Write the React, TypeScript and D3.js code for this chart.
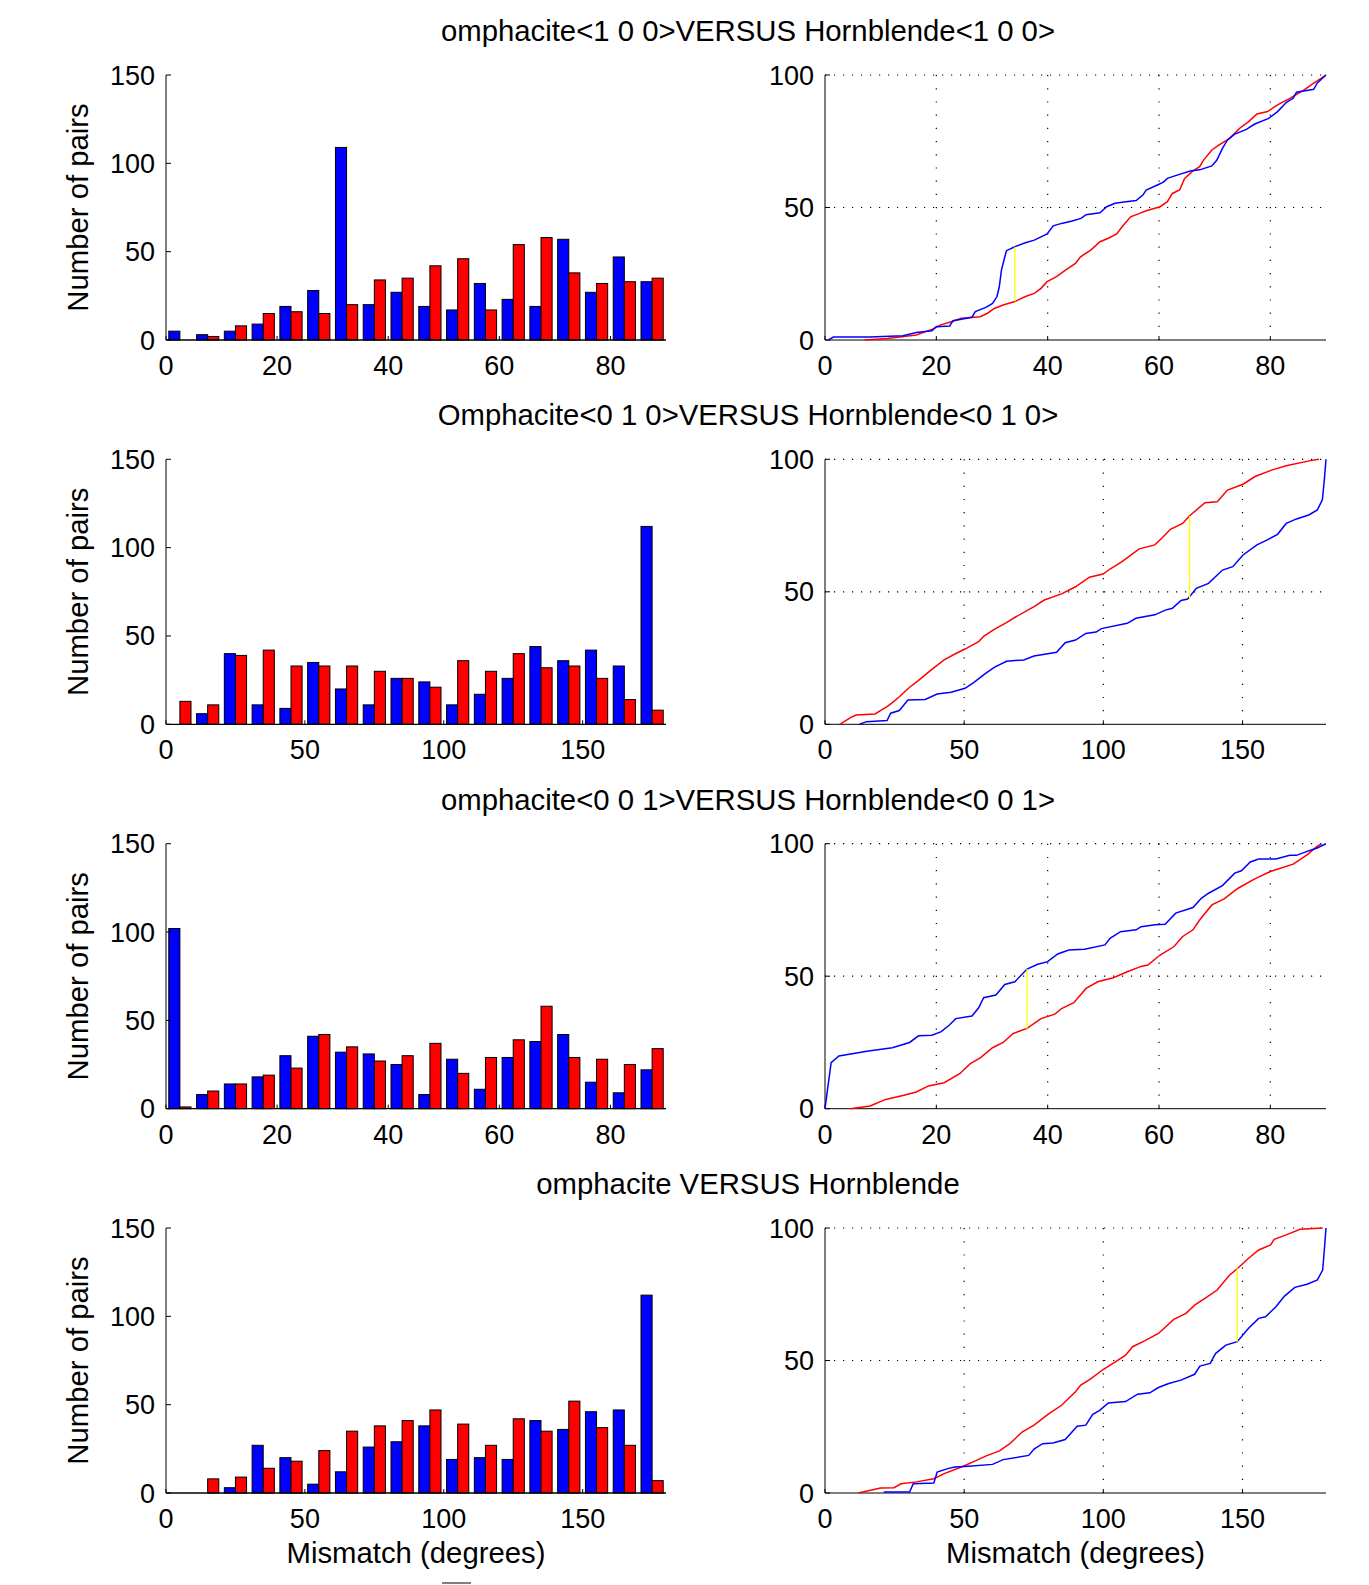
import React from "react";
import * as d3 from "d3";

// ---------- DATA ----------
const titles = [
  "omphacite<1 0 0>VERSUS Hornblende<1 0 0>",
  "Omphacite<0 1 0>VERSUS Hornblende<0 1 0>",
  "omphacite<0 0 1>VERSUS Hornblende<0 0 1>",
  "omphacite VERSUS Hornblende",
];

const centers90 = [2.5, 7.5, 12.5, 17.5, 22.5, 27.5, 32.5, 37.5, 42.5, 47.5, 52.5, 57.5, 62.5, 67.5, 72.5, 77.5, 82.5, 87.5];
const centers180 = [5, 15, 25, 35, 45, 55, 65, 75, 85, 95, 105, 115, 125, 135, 145, 155, 165, 175];

const ticks90 = [0, 20, 40, 60, 80];
const ticks180 = [0, 50, 100, 150];
const histYTicks = [0, 50, 100, 150];
const cdfYTicks = [0, 50, 100];

const hist1Blue = [5, 3, 5, 9, 19, 28, 109, 20, 27, 19, 17, 32, 23, 19, 57, 27, 47, 33];
const hist1Red = [0, 2, 8, 15, 16, 15, 20, 34, 35, 42, 46, 17, 54, 58, 38, 32, 33, 35];
const hist2Blue = [0, 6, 40, 11, 9, 35, 20, 11, 26, 24, 11, 17, 26, 44, 36, 42, 33, 112];
const hist2Red = [13, 11, 39, 42, 33, 33, 33, 30, 26, 21, 36, 30, 40, 32, 33, 26, 14, 8];
const hist3Blue = [102, 8, 14, 18, 30, 41, 32, 31, 25, 8, 28, 11, 29, 38, 42, 15, 9, 22];
const hist3Red = [1, 10, 14, 19, 23, 42, 35, 27, 30, 37, 20, 29, 39, 58, 29, 28, 25, 34];
const hist4Blue = [0, 0, 3, 27, 20, 5, 12, 26, 29, 38, 19, 20, 19, 41, 36, 46, 47, 112];
const hist4Red = [0, 8, 9, 14, 18, 24, 35, 38, 41, 47, 39, 27, 42, 35, 52, 37, 27, 7];

const cdf1Blue: [number, number][] = [[0.6, 0], [1.5, 1.1], [8, 1.1], [14, 1.6], [16.4, 2.8], [19.2, 3.5], [20, 5], [22.4, 5.3], [23, 7.3], [26.4, 8.6], [27, 10.7], [28.9, 12.3], [30.1, 13.8], [30.9, 16.4], [31.3, 20], [31.7, 26.4], [32.3, 31.4], [32.6, 33.7], [34.1, 35.2], [36, 36.7], [37.6, 37.7], [39.9, 40], [41, 43.1], [42.5, 44], [44.4, 44.9], [46, 45.9], [46.9, 47.3], [49.4, 48], [50.6, 50.3], [52.1, 51.6], [53.7, 52.1], [55.9, 52.6], [57.1, 54.7], [57.7, 56.6], [59.9, 58.7], [60.8, 59.6], [61.5, 61], [63.4, 62.3], [65.6, 63.8], [67.3, 64.2], [69.5, 65.7], [70.4, 67.9], [71.4, 72.3], [72.3, 75.5], [73.6, 77.7], [75.7, 79.5], [77.2, 81.5], [79.7, 83.6], [81.3, 86.2], [82.9, 89.7], [84.1, 91.2], [84.7, 93.5], [87.8, 94.6], [88.4, 96.9], [90, 100]];
const cdf1Red: [number, number][] = [[7.1, 0], [11.2, 0.6], [16.4, 1.9], [19.2, 4], [20.8, 5.7], [22.7, 6.9], [24.5, 8.2], [27.9, 8.8], [29.2, 10.1], [30.4, 11.9], [32, 13.2], [34.1, 14.5], [36, 16.4], [37.6, 17.6], [38.8, 19.5], [39.9, 22], [41.6, 23.9], [43.2, 26.4], [45, 28.9], [45.9, 31.4], [47.8, 34], [49.4, 37.1], [50.9, 38.4], [52.4, 40], [53.4, 42.8], [54.9, 46.5], [56.5, 47.8], [57.7, 48.8], [60.2, 50.3], [61.5, 52.2], [62.4, 55.3], [63.7, 56.6], [64.6, 61], [66.1, 63.8], [67.3, 65.4], [68, 67.9], [69.5, 71.7], [70.8, 73.6], [72.7, 76.1], [74.5, 79.9], [76.1, 82.4], [77.6, 85.3], [79.5, 86.2], [81.3, 88.7], [83.5, 91.2], [86, 94.3], [87.8, 96.9], [90, 100]];
const cdf2Blue: [number, number][] = [[12.4, 0], [14.9, 1], [22.3, 1.4], [23.6, 4.2], [26.7, 5.2], [29.8, 9.2], [36, 9.4], [40.3, 11.4], [45.3, 12.1], [50.3, 13.6], [53.4, 15.7], [57.7, 19.2], [60.8, 21.5], [65.2, 23.8], [71.4, 24.3], [75.1, 25.8], [83.2, 27.2], [86.3, 30.8], [90, 31.8], [93.7, 34.3], [97.4, 34.8], [99.3, 36.1], [108.6, 38.1], [111.7, 40], [118.5, 41.3], [122.3, 43.1], [124.8, 43.8], [127.9, 46.7], [130.3, 47.3], [133.4, 51.3], [137.8, 53.2], [142.8, 58.2], [146.5, 59.5], [150.2, 63.9], [155.2, 67.7], [158.9, 69.6], [162.6, 71.7], [165.7, 75.8], [169.4, 77.5], [173.8, 79], [176.9, 80.9], [178.7, 84.7], [179.4, 92.2], [180, 100]];
const cdf2Red: [number, number][] = [[5.3, 0], [9.3, 2.6], [11.2, 3.5], [18, 3.9], [19.9, 5.2], [22.3, 6.7], [24.2, 8.2], [26.7, 10.4], [30.4, 14], [33.5, 16.5], [38.5, 20.8], [42.8, 24.3], [47.2, 26.8], [50.3, 28.4], [55.2, 31.2], [57.1, 33.3], [60.8, 35.8], [65.2, 38.4], [68.3, 40.4], [75.1, 44.4], [78.8, 46.9], [85, 49.2], [90, 51.9], [95, 55.5], [99.9, 56.7], [102.4, 58.6], [106.7, 61.4], [112.9, 66.2], [118.5, 67.7], [121, 70.2], [124.1, 73.6], [128.5, 75.8], [130.9, 78.6], [136.5, 83.6], [140.9, 84], [144.6, 88.4], [150.2, 90.6], [154.5, 93.5], [160.7, 96], [165.7, 97.6], [174.4, 99.5], [177.5, 100]];
const cdf3Blue: [number, number][] = [[0, 0], [1.1, 17.4], [2.5, 19.9], [7.8, 21.8], [12.1, 23], [15.2, 25], [16.8, 27.5], [19.2, 27.7], [20.8, 29], [22.3, 31.5], [23.5, 34], [26.4, 35], [27.6, 38.1], [28.5, 41.9], [30.7, 42.9], [32.3, 46.9], [34.1, 47.9], [36.3, 52.7], [38.2, 54.5], [40, 55.5], [41.8, 58.4], [43.8, 59.9], [46.6, 60.2], [50.3, 61.8], [51.2, 64.3], [53.1, 66.8], [55.9, 67.5], [56.8, 68.7], [59.3, 69.4], [61.1, 69.6], [63, 73.8], [66.1, 75.9], [67.6, 79.4], [68.9, 81.3], [71.4, 84.2], [73.6, 88.9], [74.8, 89.8], [76.4, 93.1], [77.9, 94.2], [81, 94.2], [83.5, 95.6], [84.7, 95.6], [86.6, 97.1], [88.4, 98.4], [90, 100]];
const cdf3Red: [number, number][] = [[4.5, 0], [8.1, 1], [10.9, 3.5], [14, 5], [16.4, 6.3], [18.6, 8.6], [21.4, 9.8], [24.2, 13.2], [26.1, 17], [27.9, 19.2], [30.1, 23], [32, 25], [33.8, 28.4], [36.3, 30.3], [38.8, 34], [41.3, 35.7], [42.5, 37.8], [44.7, 40], [46.9, 45.4], [49, 47.9], [51.8, 49.4], [54.3, 51.7], [56.8, 53.7], [58, 54.2], [60.2, 58], [62.7, 61.2], [64.2, 64.9], [66.1, 67.5], [67.3, 71.2], [69.5, 76.9], [71.7, 79.2], [74.2, 83.2], [77.3, 86.8], [80, 89.5], [84.1, 92.3], [86.6, 95.8], [88.4, 99], [89.2, 100]];
const cdf4Blue: [number, number][] = [[21.1, 0.4], [30.4, 0.4], [31.7, 3.5], [39.1, 3.8], [40.3, 7.9], [44.1, 9.2], [46.6, 9.8], [51.5, 10.1], [60.2, 10.8], [64, 12.6], [73.2, 14.2], [75.1, 16.6], [78.2, 18.6], [81.9, 18.9], [86.3, 20.2], [90.6, 25.2], [93.7, 25.6], [96.2, 29.7], [98.7, 31.2], [101.8, 34], [108, 34.5], [112.3, 37.3], [116.7, 37.8], [119.8, 39.8], [123.5, 41.3], [127.9, 42.6], [132.8, 44.8], [134.7, 47.9], [138.4, 48.9], [140.3, 52.6], [144, 55.8], [148.1, 57.1], [152.1, 62.1], [155.8, 65.9], [158.3, 66.5], [162, 70.3], [165.1, 74.3], [168.8, 77.6], [173.2, 78.8], [176.9, 80.4], [178.8, 84.1], [179.4, 91.7], [180, 100]];
const cdf4Red: [number, number][] = [[12, 0], [19.9, 1.9], [24.8, 2], [27.3, 3.5], [32.9, 4.2], [39.1, 5.4], [42.8, 7.3], [49.7, 10.1], [54, 12.1], [57.7, 13.9], [62.7, 15.9], [66.4, 18.6], [70.8, 23], [75.1, 25.6], [80.1, 29.7], [85, 33.1], [90, 38.2], [91.9, 40.7], [95.6, 43.2], [99.9, 46.6], [104.3, 49.5], [108, 52], [110.5, 55.2], [114.8, 57.4], [119.8, 60.2], [125.3, 65.5], [129.7, 67.8], [132.8, 70.9], [136.5, 73.4], [140.9, 76.6], [145.3, 82.2], [148.3, 84.8], [152.1, 88.5], [155.8, 91.7], [160.1, 93.6], [161.4, 95.7], [165.7, 97.4], [170.7, 99.5], [178.8, 100]];

// yellow max-difference markers: [x, yLow, yHigh]
const ksMarkers: [number, number, number][] = [[34.1, 14.5, 35.2], [131, 47.2, 78.6], [36.3, 30.3, 52.7], [148.1, 57.1, 84.8]];

const xMaxes = [90, 180, 90, 180];

// ---------- LAYOUT ----------
const rowTops = [75, 459.3, 843.7, 1228];
const plotH = 265;
const histX0 = 166, histX1 = 666;
const cdfX0 = 825, cdfX1 = 1326;
const FONT = "'Liberation Sans', Arial, Helvetica, sans-serif";
const tickFs = 27;
const labelFs = 29.3;

const rows = [
  { blue: hist1Blue, red: hist1Red, centers: centers90, ticks: ticks90, cdfB: cdf1Blue, cdfR: cdf1Red },
  { blue: hist2Blue, red: hist2Red, centers: centers180, ticks: ticks180, cdfB: cdf2Blue, cdfR: cdf2Red },
  { blue: hist3Blue, red: hist3Red, centers: centers90, ticks: ticks90, cdfB: cdf3Blue, cdfR: cdf3Red },
  { blue: hist4Blue, red: hist4Red, centers: centers180, ticks: ticks180, cdfB: cdf4Blue, cdfR: cdf4Red },
];

function Row({ i }: { i: number }) {
  const r = rows[i];
  const top = rowTops[i];
  const bottom = top + plotH;
  const xmax = xMaxes[i];
  const bw = xmax / 18;
  const hx = d3.scaleLinear().domain([0, xmax]).range([histX0, histX1]);
  const hy = d3.scaleLinear().domain([0, 150]).range([bottom, top]);
  const cx = d3.scaleLinear().domain([0, xmax]).range([cdfX0, cdfX1]);
  const cy = d3.scaleLinear().domain([0, 100]).range([bottom, top]);
  const line = d3.line<[number, number]>().x((d) => cx(d[0])).y((d) => cy(d[1]));
  const m = ksMarkers[i];
  const isLast = i === 3;
  return (
    <g>
      <text x={748} y={top - 34} textAnchor="middle" fontSize={labelFs} fontFamily={FONT}>{titles[i]}</text>
      {/* histogram bars */}
      {r.centers.map((c, k) => (
        <g key={k}>
          {r.blue[k] > 0 && (
            <rect x={hx(c - 0.4 * bw)} y={hy(r.blue[k])} width={hx(c) - hx(c - 0.4 * bw)} height={hy(0) - hy(r.blue[k])} fill="#0000ff" stroke="#000" strokeWidth={1} />
          )}
          {r.red[k] > 0 && (
            <rect x={hx(c)} y={hy(r.red[k])} width={hx(c + 0.4 * bw) - hx(c)} height={hy(0) - hy(r.red[k])} fill="#ff0000" stroke="#000" strokeWidth={1} />
          )}
        </g>
      ))}
      {/* hist axes */}
      <line x1={histX0} x2={histX0} y1={top} y2={bottom} stroke="#000" strokeWidth={1} />
      <line x1={histX0} x2={histX1} y1={bottom} y2={bottom} stroke="#000" strokeWidth={1.3} />
      {histYTicks.map((t) => (
        <g key={t}>
          <line x1={histX0} x2={histX0 + 5} y1={hy(t)} y2={hy(t)} stroke="#000" />
          <text x={histX0 - 11} y={hy(t) + 9.5} textAnchor="end" fontSize={tickFs} fontFamily={FONT}>{t}</text>
        </g>
      ))}
      {r.ticks.map((t) => (
        <g key={t}>
          <line x1={hx(t)} x2={hx(t)} y1={bottom} y2={bottom - 4} stroke="#000" />
          <text x={hx(t)} y={bottom + 35} textAnchor="middle" fontSize={tickFs} fontFamily={FONT}>{t}</text>
        </g>
      ))}
      <text transform={`translate(88,${(top + bottom) / 2}) rotate(-90)`} textAnchor="middle" fontSize={labelFs} fontFamily={FONT}>Number of pairs</text>
      {/* cdf grid */}
      {r.ticks.filter((t) => t > 0).map((t) => (
        <line key={"gx" + t} x1={cx(t)} x2={cx(t)} y1={top} y2={bottom} stroke="#000" strokeWidth={1.2} strokeDasharray="1.2,12" />
      ))}
      {cdfYTicks.filter((t) => t > 0).map((t) => (
        <line key={"gy" + t} x1={cdfX0} x2={cdfX1} y1={cy(t)} y2={cy(t)} stroke="#000" strokeWidth={1.2} strokeDasharray="1.2,7.8" />
      ))}
      <line x1={cdfX0} x2={cdfX0} y1={top} y2={bottom} stroke="#000" strokeWidth={1} />
      <line x1={cdfX0} x2={cdfX1} y1={bottom} y2={bottom} stroke="#000" strokeWidth={1} />
      {cdfYTicks.map((t) => (
        <g key={t}>
          <line x1={cdfX0} x2={cdfX0 + 5} y1={cy(t)} y2={cy(t)} stroke="#000" />
          <text x={cdfX0 - 11} y={cy(t) + 9.5} textAnchor="end" fontSize={tickFs} fontFamily={FONT}>{t}</text>
        </g>
      ))}
      {r.ticks.map((t) => (
        <g key={t}>
          <line x1={cx(t)} x2={cx(t)} y1={bottom} y2={bottom - 4} stroke="#000" />
          <text x={cx(t)} y={bottom + 35} textAnchor="middle" fontSize={tickFs} fontFamily={FONT}>{t}</text>
        </g>
      ))}
      <path d={line(r.cdfR) || ""} fill="none" stroke="#ff0000" strokeWidth={1.5} />
      <path d={line(r.cdfB) || ""} fill="none" stroke="#0000ff" strokeWidth={1.5} />
      <line x1={cx(m[0])} x2={cx(m[0])} y1={cy(m[1])} y2={cy(m[2])} stroke="#ffff00" strokeWidth={1.3} />
      {isLast && (
        <>
          <text x={(histX0 + histX1) / 2} y={bottom + 70} textAnchor="middle" fontSize={labelFs} fontFamily={FONT}>Mismatch (degrees)</text>
          <text x={(cdfX0 + cdfX1) / 2} y={bottom + 70} textAnchor="middle" fontSize={labelFs} fontFamily={FONT}>Mismatch (degrees)</text>
        </>
      )}
    </g>
  );
}

export default function App() {
  return (
    <svg width={1369} height={1585} style={{ position: "absolute", left: 0, top: 0, background: "#fff" }}>
      <rect x={0} y={0} width={1369} height={1585} fill="#fff" />
      {rows.map((_, i) => (
        <Row key={i} i={i} />
      ))}
      <line x1={442} x2={471} y1={1583} y2={1583} stroke="#555" strokeWidth={1.5} />
    </svg>
  );
}
